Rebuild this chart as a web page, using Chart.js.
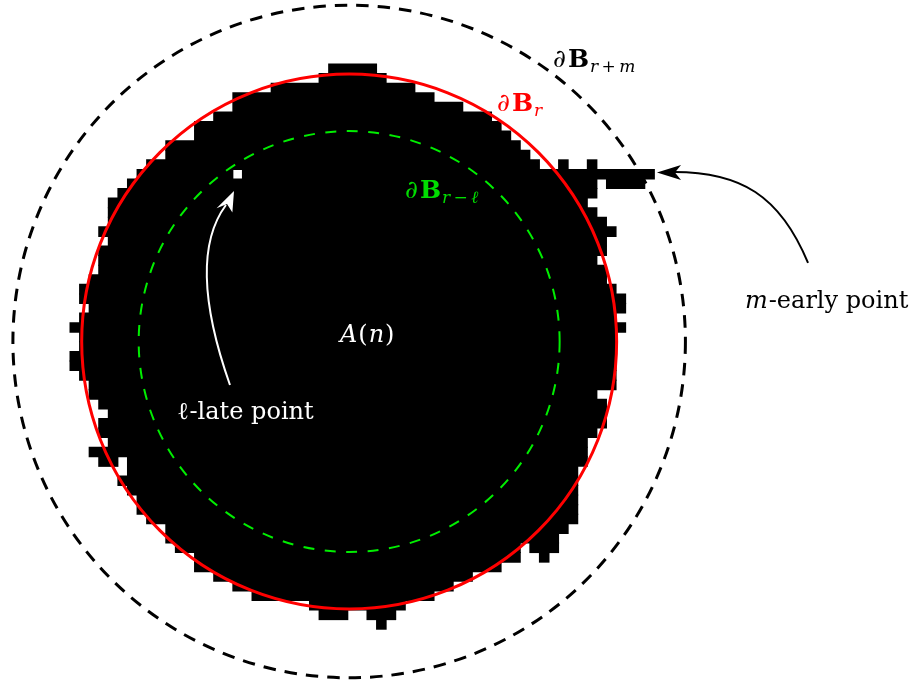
<!DOCTYPE html>
<html>
<head>
<meta charset="utf-8">
<script src="https://cdn.jsdelivr.net/npm/chart.js"></script>
<style>
  html, body { margin: 0; padding: 0; background: #fff; }
  #wrap { width: 910px; height: 681px; }
</style>
</head>
<body>
<div id="wrap"><canvas id="myChart" width="910" height="681"></canvas></div>
<script>
// cells of the cluster A(n), one entry per run of black cells: [row, first column, column after the last]
const rowSegments = [
  [0, 27, 32], [1, 26, 33], [2, 21, 36], [3, 17, 38], [4, 17, 41],
  [5, 15, 44], [6, 13, 45], [7, 13, 46], [8, 10, 47], [9, 10, 48],
  [10, 8, 49], [10, 51, 52], [10, 54, 55],
  [11, 7, 17], [11, 18, 61],
  [12, 6, 55], [12, 56, 60],
  [13, 5, 55], [14, 4, 54], [15, 4, 55], [16, 4, 56], [17, 3, 57],
  [18, 4, 56], [19, 3, 56], [20, 3, 55], [21, 3, 56], [22, 2, 56],
  [23, 1, 57], [24, 1, 58], [25, 2, 58], [26, 1, 57], [27, 0, 58],
  [28, 1, 57], [29, 1, 57], [30, 0, 57], [31, 0, 57], [32, 1, 57],
  [33, 2, 57], [34, 2, 55], [35, 3, 56], [36, 4, 56], [37, 3, 56],
  [38, 3, 55], [39, 4, 54], [40, 2, 54],
  [41, 3, 5], [41, 6, 54],
  [42, 6, 53], [43, 5, 53], [44, 6, 53], [45, 7, 53], [46, 7, 53],
  [47, 8, 53], [48, 10, 52], [49, 10, 51],
  [50, 11, 47], [50, 48, 51],
  [51, 13, 47], [51, 49, 50],
  [52, 13, 45], [53, 15, 42], [54, 17, 40], [55, 19, 38], [56, 25, 35],
  [57, 26, 29], [57, 31, 34],
  [58, 32, 33]
];

// the three balls, all centred on the origin of the cluster (cell units)
const ballCentre = [29.14, 28.97];
const ballNames = ["r\u2009+\u2009m", "r", "r\u2009\u2212\u2009\u2113"];
const ballRadii = [35.1, 27.92, 21.97];

// text labels
const pointLabels = ["\u2113-late point", "m-early point"];
const clusterLabel = "A(n)";

const cellPx = 9.58; // picture pixels per cell

// floating horizontal bars, one per run of cells
const barData = rowSegments.map(s => ({ y: s[0] + 0.5, x: [s[1], s[2]] }));

function drawParts(ctx, x, y, parts) {
  let cx = x;
  parts.forEach(p => {
    ctx.font = p.font;
    ctx.fillStyle = p.color;
    ctx.fillText(p.text, cx, y + (p.dy || 0));
    cx += ctx.measureText(p.text).width + (p.gap || 0);
  });
}

function drawArrow(ctx, pts, head, color) {
  ctx.save();
  ctx.setLineDash([]);
  ctx.strokeStyle = color;
  ctx.lineWidth = 2;
  ctx.beginPath();
  ctx.moveTo(pts[0][0], pts[0][1]);
  ctx.bezierCurveTo(pts[1][0], pts[1][1], pts[2][0], pts[2][1], pts[3][0], pts[3][1]);
  ctx.stroke();
  ctx.fillStyle = color;
  ctx.beginPath();
  ctx.moveTo(head[0][0], head[0][1]);
  for (let i = 1; i < head.length; i++) ctx.lineTo(head[i][0], head[i][1]);
  ctx.closePath();
  ctx.fill();
  ctx.restore();
}

const overlay = {
  id: 'overlay',
  afterDatasetsDraw(chart) {
    const ctx = chart.ctx;
    const xs = chart.scales.x;
    const ys = chart.scales.y;
    const P = (a, b) => [xs.getPixelForValue(a), ys.getPixelForValue(b)];
    const c = P(ballCentre[0], ballCentre[1]);

    // circles: outer black dashed, red solid, inner green dashed
    const styles = [
      { color: '#000', width: 3, dash: [12.5, 9] },
      { color: '#ff0000', width: 3, dash: [] },
      { color: '#00ee00', width: 2, dash: [11, 10.5] }
    ];
    ballRadii.forEach((r, i) => {
      const rp = Math.abs(xs.getPixelForValue(ballCentre[0] + r) - c[0]);
      ctx.save();
      ctx.strokeStyle = styles[i].color;
      ctx.lineWidth = styles[i].width;
      ctx.setLineDash(styles[i].dash);
      ctx.beginPath();
      ctx.arc(c[0], c[1], rp, 0, Math.PI * 2);
      ctx.stroke();
      ctx.restore();
    });

    const F = 'DejaVu Serif';
    const big = 24, lab = 25, sub = 17;
    const ballLabelPos = [P(50.42, 0.31), P(44.57, 4.91), P(34.97, 13.99)];
    const ballColors = ['#000', '#ff0000', '#00dd00'];
    ballNames.forEach((n, i) => {
      const p = ballLabelPos[i];
      drawParts(ctx, p[0], p[1], [
        { text: '\u2202', font: 'italic ' + lab + 'px "' + F + '"', color: ballColors[i], gap: 2 },
        { text: 'B', font: 'bold ' + lab + 'px "' + F + '"', color: ballColors[i], gap: 1 },
        { text: n, font: 'italic ' + sub + 'px "' + F + '"', color: ballColors[i], dy: 5 }
      ]);
    });

    // A(n) in the middle of the cluster
    let p = P(28.18, 29.02);
    drawParts(ctx, p[0], p[1], [
      { text: 'A', font: 'italic ' + big + 'px "' + F + '"', color: '#fff', gap: 1 },
      { text: '(', font: big + 'px "' + F + '"', color: '#fff', gap: 1 },
      { text: 'n', font: 'italic ' + big + 'px "' + F + '"', color: '#fff', gap: 1 },
      { text: ')', font: big + 'px "' + F + '"', color: '#fff' }
    ]);

    p = P(11.17, 37.06);
    drawParts(ctx, p[0], p[1], [
      { text: pointLabels[0].slice(0, 1), font: big + 'px "' + F + '"', color: '#fff', gap: 1 },
      { text: pointLabels[0].slice(1), font: big + 'px "' + F + '"', color: '#fff' }
    ]);

    p = P(70.46, 25.47);
    drawParts(ctx, p[0], p[1], [
      { text: pointLabels[1].slice(0, 1), font: 'italic ' + big + 'px "' + F + '"', color: '#000', gap: 1 },
      { text: pointLabels[1].slice(1), font: big + 'px "' + F + '"', color: '#000' }
    ]);

    // arrow to the late point (white) and to the early point (black)
    drawArrow(ctx,
      [P(16.70, 33.51), P(13.57, 24.63), P(13.57, 18.37), P(16.28, 14.72)],
      [P(17.12, 13.26), P(15.30, 15.05), P(16.39, 14.61), P(16.95, 15.50)],
      '#fff');
    drawArrow(ctx,
      [P(77.04, 20.77), P(74.11, 13.67), P(69.94, 11.27), P(63.05, 11.27)],
      [P(61.27, 11.33), P(63.78, 10.54), P(63.15, 11.33), P(63.78, 12.11)],
      '#000');
  }
};

// Create the chart
const ctx = document.getElementById('myChart').getContext('2d');
const myChart = new Chart(ctx, {
  type: 'bar',
  data: {
    datasets: [{
      label: 'A(n)',
      data: barData,
      backgroundColor: '#000',
      borderWidth: 0,
      barPercentage: 1,
      categoryPercentage: 1,
      inflateAmount: 0.5
    }]
  },
  options: {
    indexAxis: 'y',
    responsive: false,
    animation: false,
    layout: { padding: 0 },
    scales: {
      x: { type: 'linear', display: false, offset: false, min: -70 / cellPx, max: 840 / cellPx, ticks: { stepSize: 10 } },
      y: { type: 'linear', display: false, offset: false, reverse: true, min: -64 / cellPx, max: 617 / cellPx, ticks: { stepSize: 10 } }
    },
    plugins: {
      legend: { display: false },
      tooltip: { enabled: false }
    }
  },
  plugins: [overlay]
});
</script>
</body>
</html>
